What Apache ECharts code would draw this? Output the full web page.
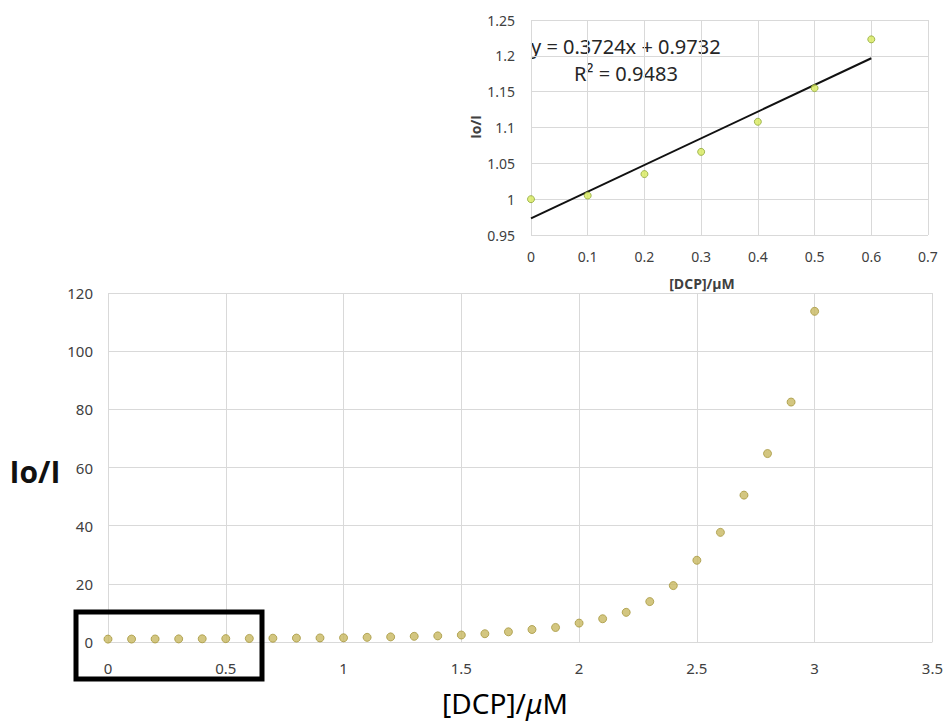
<!DOCTYPE html>
<html>
<head>
<meta charset="utf-8">
<script src="https://cdn.jsdelivr.net/npm/echarts@6/dist/echarts.min.js"></script>
<style>
html,body{margin:0;padding:0;background:#fff;}
#c{width:946px;height:723px;}
</style>
</head>
<body>
<div id="c"></div>
<script>
// Main chart data
const mainX = [0,0.1,0.2,0.3,0.4,0.5,0.6,0.7,0.8,0.9,1.0,1.1,1.2,1.3,1.4,1.5,1.6,1.7,1.8,1.9,2.0,2.1,2.2,2.3,2.4,2.5,2.6,2.7,2.8,2.9,3.0];
const mainY = [1.0,1.005,1.035,1.066,1.108,1.155,1.223,1.3,1.35,1.4,1.45,1.6,1.75,1.95,2.1,2.4,2.85,3.5,4.3,5.0,6.5,8.0,10.2,13.9,19.4,28.1,37.7,50.5,64.8,82.5,113.7];
// Inset data
const insetX = [0,0.1,0.2,0.3,0.4,0.5,0.6];
const insetY = [1.0,1.005,1.035,1.066,1.108,1.155,1.223];
// Linear fit line endpoints
const trendX = [0,0.6];
const trendY = [0.9732,1.1966];
// Texts
const fitEquation = 'y = 0.3724x + 0.9732';
const fitR2 = '0.9483';
const xName = '[DCP]/';
const yName = 'Io/I';

const FONT = 'Noto Sans';
const FONT2 = 'Open Sans';
const zip = (a,b)=>a.map((v,i)=>[v,b[i]]);
const fmt = v => String(+v.toFixed(2));

const chart = echarts.init(document.getElementById('c'), null, {renderer:'svg'});
chart.setOption({
  animation:false,
  backgroundColor:'#fff',
  grid:[
    {left:108, top:293, width:825, height:349},
    {left:531, top:20, width:397, height:215}
  ],
  xAxis:[
    {gridIndex:0, type:'value', min:0, max:3.5, interval:0.5,
     axisLine:{show:false}, axisTick:{show:false},
     splitLine:{show:true, lineStyle:{color:'#d9d9d9', width:1}},
     axisLabel:{margin:18, fontSize:15, color:'#404040', fontFamily:FONT, formatter:fmt}},
    {gridIndex:1, type:'value', min:0, max:0.7, interval:0.1,
     axisLine:{show:false}, axisTick:{show:false},
     splitLine:{show:true, lineStyle:{color:'#d9d9d9', width:1}},
     axisLabel:{margin:14, fontSize:14, color:'#404040', fontFamily:FONT, formatter:fmt}}
  ],
  yAxis:[
    {gridIndex:0, type:'value', min:0, max:120, interval:20,
     axisLine:{show:false}, axisTick:{show:false},
     splitLine:{show:true, lineStyle:{color:'#d9d9d9', width:1}},
     axisLabel:{margin:15, fontSize:15, color:'#404040', fontFamily:FONT}},
    {gridIndex:1, type:'value', min:0.95, max:1.25, interval:0.05,
     axisLine:{show:false}, axisTick:{show:false},
     splitLine:{show:true, lineStyle:{color:'#d9d9d9', width:1}},
     axisLabel:{margin:16, fontSize:14, color:'#404040', fontFamily:FONT, formatter:fmt}}
  ],
  series:[
    {type:'scatter', xAxisIndex:0, yAxisIndex:0, data:zip(mainX,mainY),
     symbolSize:8, itemStyle:{color:'#c8b860', borderColor:'#a6973f', borderWidth:1}},
    {type:'line', xAxisIndex:1, yAxisIndex:1, data:zip(trendX,trendY),
     showSymbol:false, lineStyle:{color:'#111', width:2}, z:2},
    {type:'scatter', xAxisIndex:1, yAxisIndex:1, data:zip(insetX,insetY),
     symbolSize:7, itemStyle:{color:'#d8ea5c', borderColor:'#8fa83a', borderWidth:1}, z:3}
  ],
  graphic:[
    {type:'text', left:531, top:36, style:{text:fitEquation, fontSize:20, fontFamily:FONT, fill:'#262626'}},
    {type:'text', left:574, top:63, style:{text:'R² = '+fitR2, fontSize:20, fontFamily:FONT, fill:'#262626'}},
    {type:'text', x:702, y:283, style:{text:'[DCP]/μM', fontSize:14, fontWeight:'bold', fontFamily:FONT2, fill:'#404040', align:'center', verticalAlign:'middle'}},
    {type:'text', x:475, y:127, rotation:Math.PI/2, style:{text:yName, fontSize:14, fontWeight:'bold', fontFamily:FONT2, fill:'#404040', align:'center', verticalAlign:'middle'}},
    {type:'text', x:35, y:471, style:{text:yName, fontSize:30, fontWeight:'bold', fontFamily:FONT2, fill:'#111', align:'center', verticalAlign:'middle'}},
    {type:'text', x:505, y:703, style:{
      text:'{a|'+xName+'}{b|μ}{a|M}', align:'center', verticalAlign:'middle',
      rich:{a:{fontSize:28, fontFamily:FONT, color:'#111'}, b:{fontSize:28, fontFamily:FONT, fontStyle:'italic', color:'#111'}}}},
    {type:'rect', shape:{x:76, y:612, width:186, height:67}, style:{fill:'none', stroke:'#000', lineWidth:5}, z:10}
  ]
});
</script>
</body>
</html>
